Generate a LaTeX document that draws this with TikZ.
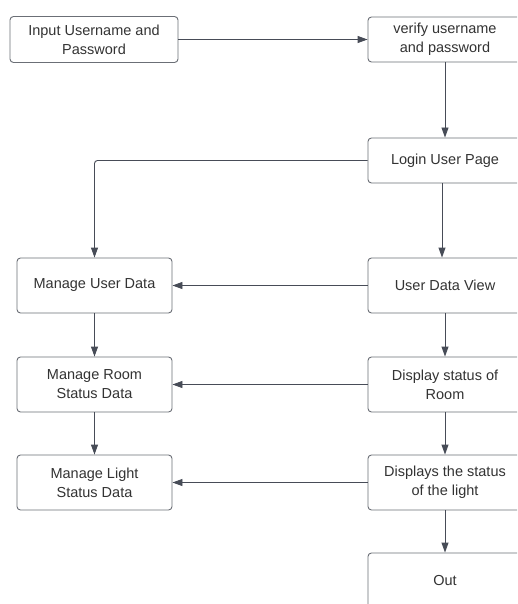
\documentclass[tikz,border=0pt]{standalone}
\usepackage{fontspec}
\setmainfont{Liberation Sans}
\usetikzlibrary{arrows.meta}
\definecolor{linec}{HTML}{474C57}
\definecolor{boxc}{HTML}{6B6F76}
\definecolor{textc}{HTML}{333333}
\begin{document}
\begin{tikzpicture}[x=1pt,y=-1pt,
  box/.style={draw=boxc,line width=0.9pt,rounded corners=3.5pt,fill=white,
    align=center,text=textc,font=\fontsize{14.5}{19}\selectfont,inner sep=0pt},
  lbox/.style={box,minimum width=155pt,minimum height=55pt},
  rbox/.style={box,minimum width=154pt,minimum height=55pt},
  conn/.style={draw=linec,line width=0.9pt,-{Triangle[length=10pt,width=7pt]}}]
\useasboundingbox[fill=white] (0,0) rectangle (517,604);
\begin{scope}
\clip (0,0) rectangle (517,604);
\node[box,minimum width=168pt,minimum height=46pt] (inp) at (94,39.5) {Input Username and\\Password};
\node[box,minimum width=154pt,minimum height=45pt] (ver) at (445,39.5) {verify username\\and password};
\node[box,minimum width=154pt,minimum height=45pt] (log) at (445,160.5) {Login User Page};
\node[rbox] (udv) at (445,285.5) {User Data View};
\node[rbox] (dsr) at (445,384.5) {Display status of\\Room};
\node[rbox] (dsl) at (445,482.5) {Displays the status\\of the light};
\node[rbox] (out) at (445,580.5) {Out};
\node[lbox] (mud) at (94.5,285.5) {Manage User Data};
\node[lbox] (mrs) at (94.5,384.5) {Manage Room\\Status Data};
\node[lbox] (mls) at (94.5,482.5) {Manage Light\\Status Data};
\path[conn] (inp.east) -- (ver.west);
\path[conn] (ver.south) -- (log.north);
\path[conn,rounded corners=3pt] (log.west) -| (mud.north);
\path[conn] ([xshift=-3pt]log.south) -- ([xshift=-3pt]udv.north);
\path[conn] (udv.south) -- (dsr.north);
\path[conn] (dsr.south) -- (dsl.north);
\path[conn] (dsl.south) -- (out.north);
\path[conn] (mud.south) -- (mrs.north);
\path[conn] (mrs.south) -- (mls.north);
\path[conn] (udv.west) -- (mud.east);
\path[conn] (dsr.west) -- (mrs.east);
\path[conn] (dsl.west) -- (mls.east);
\end{scope}
\end{tikzpicture}
\end{document}
